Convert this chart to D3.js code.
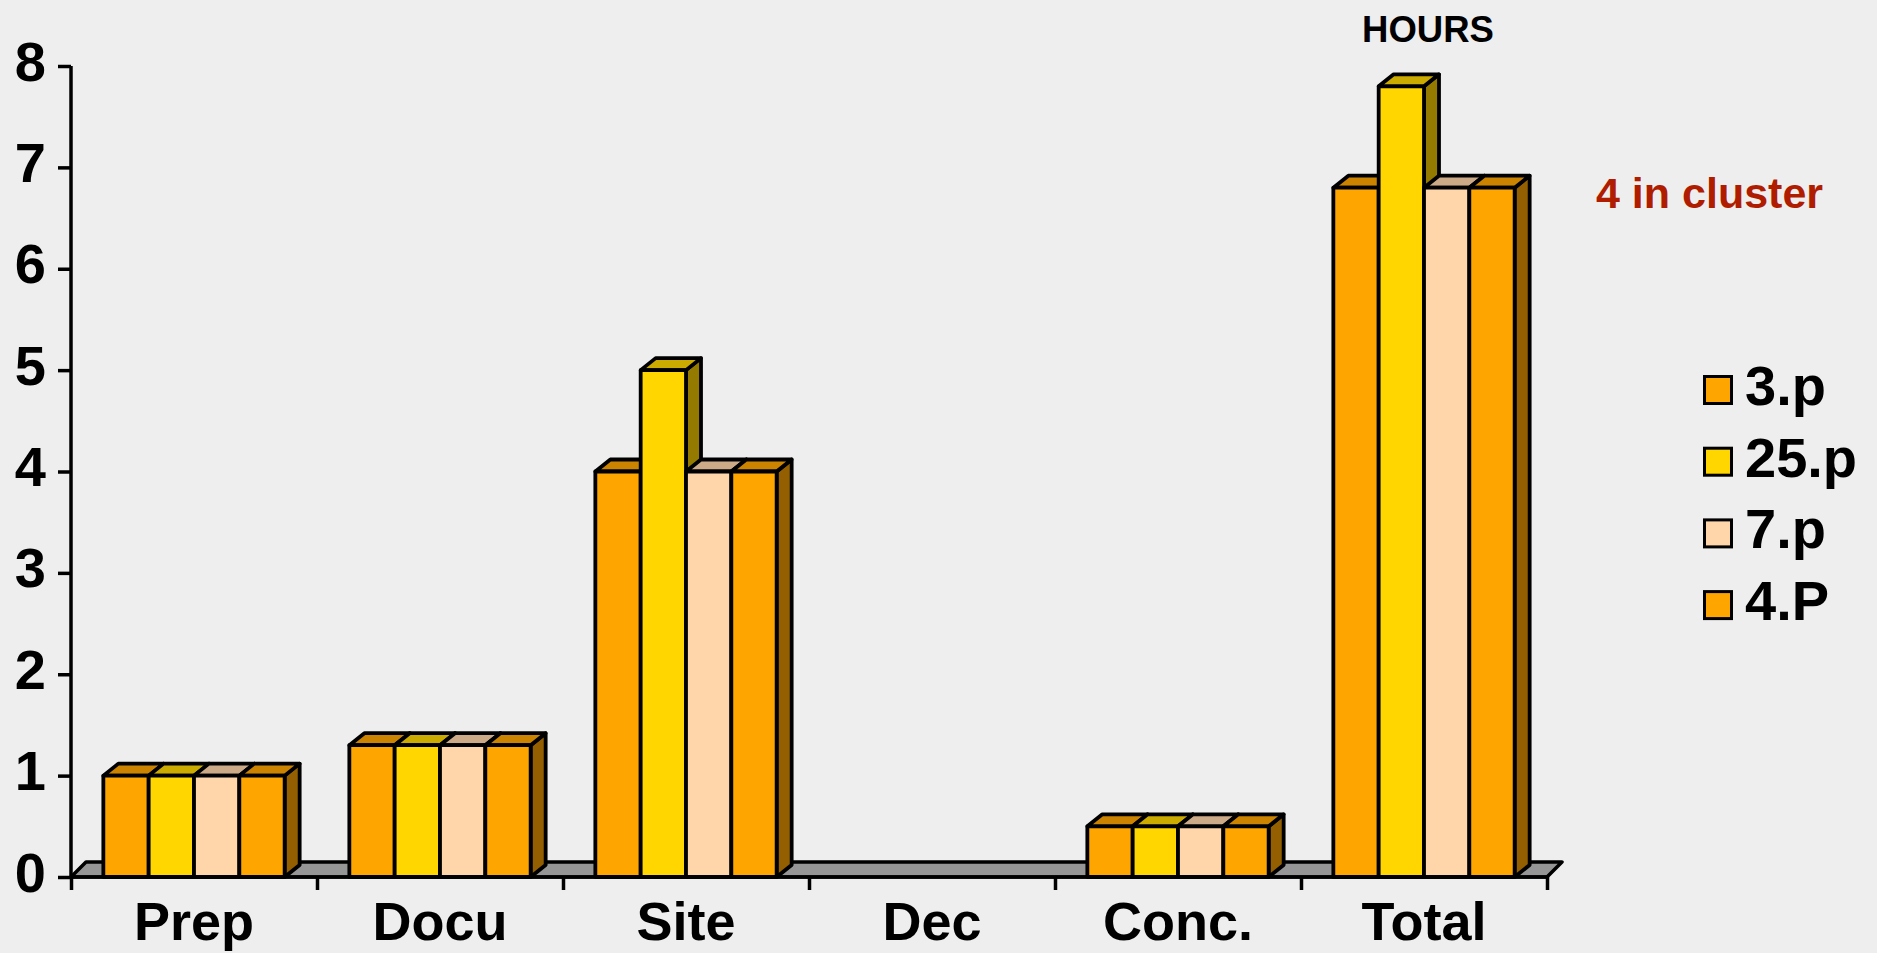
<!DOCTYPE html>
<html>
<head>
<meta charset="utf-8">
<script src="https://cdn.jsdelivr.net/npm/d3@7"></script>
<style>
  html, body { margin: 0; padding: 0; background: #eeeeee; }
  svg { display: block; font-family: "Liberation Sans", Arial, Helvetica, sans-serif; font-weight: bold; }
</style>
</head>
<body>
<svg id="chart" width="1877" height="953"></svg>
<script>
// ---- data ----
const categories = ["Prep", "Docu", "Site", "Dec", "Conc.", "Total"];
const seriesNames = ["3.p", "25.p", "7.p", "4.P"];
const s3p  = [1, 1.3, 4, 0, 0.5, 6.8];
const s25p = [1, 1.3, 5, 0, 0.5, 7.8];
const s7p  = [1, 1.3, 4, 0, 0.5, 6.8];
const s4P  = [1, 1.3, 4, 0, 0.5, 6.8];
const seriesValues = [s3p, s25p, s7p, s4P];
const yTicks = [0, 1, 2, 3, 4, 5, 6, 7, 8];
const title = "HOURS";
const note = "4 in cluster";

// ---- styles ----
const fronts = ["#FFA500", "#FFD600", "#FFD5AA", "#FFA500"];
const tops   = ["#CC8400", "#CCAB00", "#CCAA88", "#CC8400"];
const sides  = ["#935F00", "#947B00", "#937A62", "#935F00"];
const depthX = 15, depthY = 12;
const big = 56;

const svg = d3.select("#chart");
svg.append("rect").attr("width", 1877).attr("height", 953).attr("fill", "#eeeeee");

const x0 = 71, x1 = 1547, yBase = 877, yTop = 66;
const y = d3.scaleLinear().domain([0, 8]).range([yBase, yTop]);
const x = d3.scaleBand().domain(categories).range([x0, x1]).paddingInner(0).paddingOuter(0);
const bw = x.bandwidth();
const clusterW = bw * 0.737;
const xs = d3.scaleBand().domain(seriesNames).range([(bw - clusterW) / 2, (bw + clusterW) / 2]);

// floor
svg.append("path")
  .attr("d", `M${x0},${yBase} L${x1},${yBase} L${x1 + depthX},${yBase - depthY - 3} L${x0 + depthX},${yBase - depthY - 3} Z`)
  .attr("fill", "#969696").attr("stroke", "#000").attr("stroke-width", 3.5).attr("stroke-linejoin", "round");

// bars
const bars = [];
categories.forEach((c, ci) => {
  seriesNames.forEach((s, si) => {
    bars.push({ c, s, si, v: seriesValues[si][ci] });
  });
});
const g = svg.append("g");
bars.filter(d => d.v > 0).forEach(d => {
  const xl = x(d.c) + xs(d.s), xr = xl + xs.bandwidth();
  const yt = y(d.v), yb = y(0);
  const bg = g.append("g").attr("stroke", "#000").attr("stroke-width", 3.8).attr("stroke-linejoin", "round");
  // side
  bg.append("path")
    .attr("d", `M${xr},${yb} L${xr + depthX},${yb - depthY} L${xr + depthX},${yt - depthY} L${xr},${yt} Z`)
    .attr("fill", sides[d.si]);
  // top
  bg.append("path")
    .attr("d", `M${xl},${yt} L${xl + depthX},${yt - depthY} L${xr + depthX},${yt - depthY} L${xr},${yt} Z`)
    .attr("fill", tops[d.si]);
  // front
  bg.append("rect")
    .attr("x", xl).attr("y", yt).attr("width", xr - xl).attr("height", yb - yt)
    .attr("fill", fronts[d.si]);
});

// y axis
const yAxis = svg.append("g").attr("transform", `translate(${x0},0)`)
  .call(d3.axisLeft(y).tickValues(yTicks).tickFormat(d3.format("d")).tickSize(13).tickPadding(12));
yAxis.select(".domain").attr("d", `M0,${yTop}V${yBase}`).attr("stroke", "#000").attr("stroke-width", 3.5);
yAxis.selectAll(".tick line").attr("stroke", "#000").attr("stroke-width", 3.5);
yAxis.selectAll(".tick text").attr("fill", "#000").attr("font-size", big).attr("font-weight", "bold")
  .attr("font-family", '"Liberation Sans", Arial, sans-serif').attr("dy", "0.25em");

// x axis: boundary ticks
const xb = d3.scaleLinear().domain([0, categories.length]).range([x0, x1]);
const xAxisTicks = svg.append("g").attr("transform", `translate(0,${yBase})`)
  .call(d3.axisBottom(xb).ticks(categories.length).tickFormat("").tickSize(13));
xAxisTicks.select(".domain").attr("d", `M${x0},0H${x1}`).attr("stroke", "#000").attr("stroke-width", 3.5);
xAxisTicks.selectAll(".tick line").attr("stroke", "#000").attr("stroke-width", 3.5);

// x axis labels
const xAxis = svg.append("g").attr("transform", `translate(0,${yBase})`)
  .call(d3.axisBottom(x).tickSize(0).tickPadding(0));
xAxis.select(".domain").remove();
xAxis.selectAll(".tick text").attr("fill", "#000").attr("font-size", 54).attr("font-weight", "bold")
  .attr("font-family", '"Liberation Sans", Arial, sans-serif').attr("dy", null).attr("y", 63);

// title
svg.append("text").attr("x", 1428).attr("y", 42).attr("text-anchor", "middle")
  .attr("font-size", 36.5).attr("fill", "#000").text(title);

// note
svg.append("text").attr("x", 1596).attr("y", 208)
  .attr("font-size", 43).attr("fill", "#B01C00").text(note);

// legend
const legend = svg.append("g");
seriesNames.forEach((s, i) => {
  const base = 405 + i * 71.7;
  legend.append("rect").attr("x", 1704.5).attr("y", base - 28.5).attr("width", 27).attr("height", 27)
    .attr("fill", fronts[i]).attr("stroke", "#000").attr("stroke-width", 3);
  legend.append("text").attr("x", 1745).attr("y", base).attr("font-size", big).attr("fill", "#000").text(s);
});
</script>
</body>
</html>
